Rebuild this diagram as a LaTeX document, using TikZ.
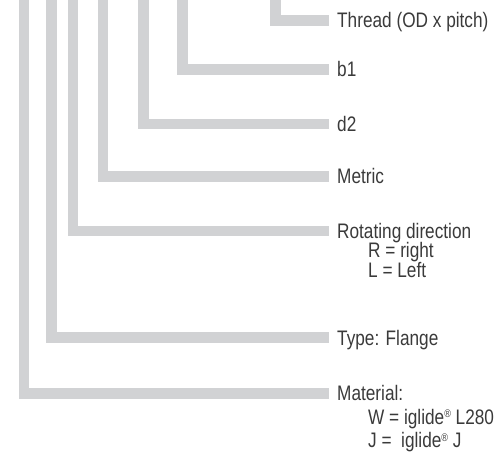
\documentclass[tikz,border=0pt]{standalone}
\usepackage{fontspec}
\setmainfont{Liberation Sans}[FakeStretch=0.82]
\definecolor{barc}{RGB}{209,210,212}
\definecolor{txtc}{RGB}{58,58,58}
\newcommand{\regmark}{\raisebox{0.55ex}{\fontsize{11}{11}\selectfont ®}}
\begin{document}
\begin{tikzpicture}[x=1pt,y=-1pt,
  bar/.style={draw=barc,line width=10.7pt,line join=miter,line cap=butt},
  lab/.style={anchor=base west,inner sep=0pt,text=txtc,font=\fontsize{21}{25}\selectfont}]
\useasboundingbox (0,0) rectangle (495,464);
% top ends of the vertical bars
\coordinate (t1) at (24,-3);
\coordinate (t2) at (51.3,-3);
\coordinate (t3) at (73,-3);
\coordinate (t4) at (103,-3);
\coordinate (t5) at (143.7,-3);
\coordinate (t6) at (182.7,-3);
\coordinate (t7) at (275.3,-3);
% ends of the horizontal bars
\coordinate (e1) at (329,393.5);
\coordinate (e2) at (329,337.7);
\coordinate (e3) at (329,231);
\coordinate (e4) at (329,176.3);
\coordinate (e5) at (329,124);
\coordinate (e6) at (329,69.5);
\coordinate (e7) at (329,20.5);
% bars
\draw[bar] (t1) |- (e1);
\draw[bar] (t2) |- (e2);
\draw[bar] (t3) |- (e3);
\draw[bar] (t4) |- (e4);
\draw[bar] (t5) |- (e5);
\draw[bar] (t6) |- (e6);
\draw[bar] (t7) |- (e7);
% labels
\node[lab] (l7) at ([xshift=8pt,yshift=-6.5pt]e7) {Thread (OD x pitch)};
\node[lab] (l6) at ([xshift=8pt,yshift=-7pt]e6) {b1};
\node[lab] (l5) at ([xshift=8pt,yshift=-7pt]e5) {d2};
\node[lab] (l4) at ([xshift=8pt,yshift=-7.5pt]e4) {Metric};
\node[lab] (l3) at ([xshift=8pt,yshift=-7pt]e3) {Rotating direction};
\node[lab] (l3a) at ([xshift=31pt,yshift=-19.5pt]l3.base west) {R = right};
\node[lab] (l3b) at ([yshift=-19.5pt]l3a.base west) {L = Left};
\node[lab] (l2) at ([xshift=8pt,yshift=-7.5pt]e2) {Type: Flange};
\node[lab] (l1) at ([xshift=8pt,yshift=-7pt]e1) {Material:};
\node[lab] (l1a) at ([xshift=31pt,yshift=-23.5pt]l1.base west) {W = iglide\regmark\ L280};
\node[lab] (l1b) at ([yshift=-23.5pt]l1a.base west) {J = \ iglide\regmark\ J};
\end{tikzpicture}
\end{document}
